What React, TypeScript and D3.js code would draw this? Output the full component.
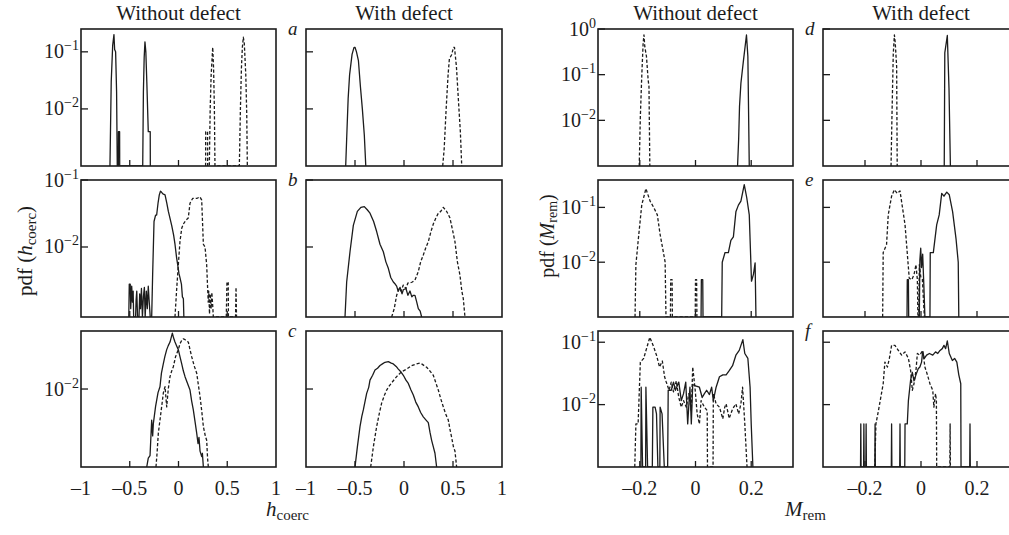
import React from 'react';
import * as d3 from 'd3';

type Pt = [number, number];

// ---- h_coerc panels (x: -1..1) ----
const aWithoutSolid: Pt[] = [
  [-0.703, 0], [-0.69, 0.03], [-0.675, 0.13], [-0.662, 0.2], [-0.655, 0.11], [-0.645, 0.1], [-0.635, 0.02], [-0.628, 0],
  [-0.617, 0], [-0.616, 0.004], [-0.604, 0.004], [-0.603, 0],
  [-0.367, 0], [-0.36, 0.02], [-0.352, 0.08], [-0.344, 0.15], [-0.335, 0.1], [-0.325, 0.03], [-0.31, 0.004],
  [-0.29, 0.004], [-0.289, 0],
];
const aWithoutDashed: Pt[] = [
  [0.278, 0], [0.279, 0.004], [0.298, 0.004], [0.299, 0], [0.316, 0], [0.325, 0.01], [0.335, 0.04], [0.351, 0.12],
  [0.36, 0.05], [0.368, 0.01], [0.374, 0],
  [0.624, 0], [0.635, 0.01], [0.645, 0.05], [0.655, 0.12], [0.665, 0.18], [0.675, 0.14], [0.69, 0.04], [0.7, 0.008], [0.706, 0],
];
const aWithSolid: Pt[] = [
  [-0.595, 0], [-0.585, 0.003], [-0.57, 0.015], [-0.555, 0.04], [-0.53, 0.09], [-0.51, 0.12], [-0.5, 0.12],
  [-0.485, 0.1], [-0.465, 0.07], [-0.445, 0.025], [-0.425, 0.01], [-0.405, 0.0035], [-0.39, 0],
];
const aWithDashed: Pt[] = [
  [0.395, 0], [0.41, 0.002], [0.43, 0.01], [0.45, 0.04], [0.463, 0.075], [0.487, 0.09], [0.505, 0.12], [0.515, 0.12],
  [0.535, 0.055], [0.555, 0.0145], [0.575, 0.004], [0.589, 0],
];

const bWithoutSolid: Pt[] = [
  [-0.51, 0], [-0.505, 0.0028], [-0.495, 0.0028], [-0.49, 0.0012], [-0.48, 0.0026], [-0.472, 0.0015], [-0.465, 0.0022],
  [-0.46, 0], [-0.44, 0], [-0.435, 0.0016], [-0.428, 0.0022], [-0.42, 0], [-0.405, 0], [-0.398, 0.002], [-0.39, 0.0012],
  [-0.38, 0.0024], [-0.37, 0], [-0.36, 0.0018], [-0.35, 0.0025], [-0.342, 0], [-0.33, 0.0022], [-0.32, 0.0012],
  [-0.31, 0.0026], [-0.3, 0.0015], [-0.29, 0],
  [-0.275, 0], [-0.265, 0.004], [-0.251, 0.024], [-0.235, 0.03], [-0.224, 0.03], [-0.21, 0.045], [-0.197, 0.06],
  [-0.185, 0.068], [-0.175, 0.066], [-0.16, 0.062], [-0.138, 0.06], [-0.12, 0.045], [-0.104, 0.034], [-0.09, 0.028],
  [-0.07, 0.021], [-0.05, 0.015], [-0.036, 0.011], [-0.02, 0.007], [-0.008, 0.0054], [0.005, 0.004], [0.015, 0.0035],
  [0.03, 0.0028], [0.04, 0.0018], [0.05, 0.0017], [0.055, 0],
];
const bWithoutDashed: Pt[] = [
  [-0.036, 0], [-0.02, 0.0022], [-0.002, 0.0054], [0.015, 0.012], [0.033, 0.019], [0.05, 0.022], [0.075, 0.025],
  [0.1, 0.027], [0.118, 0.045], [0.145, 0.053], [0.187, 0.053], [0.22, 0.056], [0.238, 0.05], [0.255, 0.011],
  [0.272, 0.01], [0.289, 0.0054], [0.3, 0.0022], [0.305, 0.0015], [0.31, 0.0022], [0.318, 0.001], [0.325, 0.002],
  [0.335, 0.0012], [0.342, 0.0021], [0.35, 0.0014], [0.357, 0],
  [0.49, 0], [0.497, 0.003], [0.51, 0.003], [0.512, 0], [0.585, 0], [0.59, 0.0025], [0.595, 0],
];
const bWithSolid: Pt[] = [
  [-0.602, 0], [-0.585, 0.003], [-0.551, 0.0085], [-0.517, 0.021], [-0.476, 0.034], [-0.44, 0.039], [-0.405, 0.04],
  [-0.375, 0.036], [-0.347, 0.032], [-0.31, 0.024], [-0.279, 0.017], [-0.245, 0.011], [-0.211, 0.0085], [-0.185, 0.006],
  [-0.16, 0.0048], [-0.135, 0.0035], [-0.109, 0.003], [-0.09, 0.0028], [-0.075, 0.0026], [-0.06, 0.0022],
  [-0.04, 0.0025], [-0.02, 0.002], [-0.007, 0.0023], [0.02, 0.0024], [0.04, 0.0019], [0.061, 0.0022], [0.08, 0.0018],
  [0.095, 0.0019], [0.112, 0.0019], [0.13, 0.0015], [0.146, 0.0012], [0.165, 0.0011], [0.18, 0],
];
const bWithDashed: Pt[] = [
  [-0.126, 0], [-0.1, 0.0012], [-0.075, 0.0019], [-0.05, 0.0024], [-0.03, 0.0022], [-0.007, 0.0027], [0.02, 0.0024],
  [0.04, 0.0029], [0.061, 0.0029], [0.085, 0.003], [0.112, 0.0032], [0.146, 0.0043], [0.17, 0.006], [0.197, 0.0076],
  [0.225, 0.01], [0.248, 0.012], [0.275, 0.017], [0.299, 0.022], [0.325, 0.027], [0.35, 0.032], [0.375, 0.034],
  [0.401, 0.039], [0.43, 0.035], [0.45, 0.031], [0.469, 0.027], [0.495, 0.018], [0.52, 0.012], [0.545, 0.006],
  [0.571, 0.0038], [0.59, 0.0022], [0.605, 0.0017], [0.622, 0],
];

const cWithoutSolid: Pt[] = [
  [-0.326, 0], [-0.31, 0.0013], [-0.292, 0.0014], [-0.275, 0.004], [-0.265, 0.0025], [-0.258, 0.0036], [-0.235, 0.006],
  [-0.21, 0.009], [-0.19, 0.0107], [-0.175, 0.016], [-0.156, 0.021], [-0.14, 0.026], [-0.121, 0.032], [-0.105, 0.036],
  [-0.087, 0.04], [-0.063, 0.052], [-0.05, 0.045], [-0.036, 0.04], [-0.02, 0.036], [-0.002, 0.032], [0.015, 0.026],
  [0.033, 0.021], [0.05, 0.017], [0.067, 0.0144], [0.09, 0.012], [0.118, 0.0097], [0.135, 0.007], [0.152, 0.0054],
  [0.17, 0.0038], [0.187, 0.0027], [0.2, 0.002], [0.21, 0.0024], [0.221, 0.0016], [0.238, 0.00136], [0.245, 0.0015],
  [0.255, 0],
];
const cWithoutDashed: Pt[] = [
  [-0.231, 0], [-0.22, 0.0015], [-0.207, 0.0027], [-0.19, 0.004], [-0.173, 0.0059], [-0.155, 0.009], [-0.138, 0.0107],
  [-0.121, 0.0059], [-0.105, 0.01], [-0.087, 0.0144], [-0.07, 0.017], [-0.053, 0.0193], [-0.03, 0.026], [-0.002, 0.032],
  [0.015, 0.038], [0.033, 0.042], [0.05, 0.044], [0.067, 0.043], [0.085, 0.041], [0.101, 0.04], [0.118, 0.032],
  [0.135, 0.026], [0.16, 0.02], [0.187, 0.0159], [0.205, 0.011], [0.221, 0.008], [0.24, 0.005], [0.255, 0.0033],
  [0.275, 0.0025], [0.289, 0.0022], [0.298, 0.0013], [0.306, 0],
];
const cWithSolid: Pt[] = [
  [-0.5, 0], [-0.476, 0.0018], [-0.449, 0.0033], [-0.43, 0.0045], [-0.415, 0.0054], [-0.381, 0.0088], [-0.36, 0.0105],
  [-0.347, 0.013], [-0.32, 0.015], [-0.296, 0.0175], [-0.27, 0.0185], [-0.245, 0.02], [-0.22, 0.021], [-0.194, 0.022],
  [-0.16, 0.0224], [-0.13, 0.0215], [-0.109, 0.021], [-0.08, 0.0195], [-0.058, 0.018], [-0.03, 0.0165], [-0.007, 0.015],
  [0.02, 0.013], [0.044, 0.0118], [0.07, 0.0098], [0.095, 0.0084], [0.12, 0.0068], [0.146, 0.0059], [0.17, 0.005],
  [0.197, 0.0044], [0.225, 0.004], [0.248, 0.0037], [0.265, 0.0028], [0.282, 0.0022], [0.3, 0.0018], [0.316, 0.0015],
  [0.333, 0],
];
const cWithDashed: Pt[] = [
  [-0.34, 0], [-0.313, 0.0018], [-0.279, 0.0033], [-0.25, 0.005], [-0.228, 0.0066], [-0.2, 0.0083], [-0.177, 0.0097],
  [-0.15, 0.011], [-0.126, 0.012], [-0.1, 0.0132], [-0.075, 0.0144], [-0.05, 0.0155], [-0.024, 0.0167], [0.027, 0.018],
  [0.078, 0.02], [0.129, 0.021], [0.163, 0.0215], [0.18, 0.021], [0.231, 0.019], [0.265, 0.017], [0.299, 0.015],
  [0.325, 0.012], [0.35, 0.0097], [0.375, 0.0075], [0.401, 0.0059], [0.425, 0.0048], [0.452, 0.004], [0.47, 0.003],
  [0.486, 0.0024], [0.505, 0.0018], [0.52, 0.0016], [0.537, 0],
];

// ---- M_rem panels (x: -0.35..0.35) ----
const dWithoutSolid: Pt[] = [
  [0.151, 0], [0.155, 0.004], [0.158, 0.02], [0.163, 0.065], [0.172, 0.2], [0.183, 0.74], [0.188, 0.25], [0.193, 0],
];
const dWithoutDashed: Pt[] = [
  [-0.202, 0], [-0.198, 0.012], [-0.193, 0.09], [-0.188, 0.49], [-0.185, 0.74], [-0.182, 0.41], [-0.176, 0.25],
  [-0.17, 0.077], [-0.167, 0.055], [-0.164, 0],
];
const dWithSolid: Pt[] = [[0.083, 0], [0.085, 0.3], [0.094, 0.72], [0.1, 0.05], [0.105, 0]];
const dWithDashed: Pt[] = [
  [-0.107, 0], [-0.104, 0.01], [-0.099, 0.29], [-0.095, 0.74], [-0.092, 0.5], [-0.087, 0.15], [-0.085, 0],
];

const eWithoutSolid: Pt[] = [
  [0.02, 0], [0.021, 0.0048], [0.026, 0.0048], [0.027, 0],
  [0.094, 0], [0.096, 0.01], [0.106, 0.015], [0.118, 0.015], [0.127, 0.025], [0.136, 0.029], [0.145, 0.083],
  [0.154, 0.11], [0.163, 0.13], [0.175, 0.26], [0.184, 0.15], [0.193, 0.073], [0.201, 0.0045], [0.208, 0.006],
  [0.214, 0.0097], [0.217, 0],
];
const eWithoutDashed: Pt[] = [
  [-0.217, 0], [-0.214, 0.009], [-0.205, 0.027], [-0.193, 0.11], [-0.178, 0.22], [-0.163, 0.13], [-0.15, 0.1],
  [-0.137, 0.073], [-0.127, 0.032], [-0.118, 0.018], [-0.109, 0.01], [-0.106, 0],
  [-0.09, 0], [-0.089, 0.0048], [-0.084, 0.0048], [-0.083, 0], [-0.001, 0], [0, 0.0048], [0.004, 0.0048], [0.005, 0],
];
const eWithSolid: Pt[] = [
  [-0.05, 0], [-0.049, 0.0048], [-0.045, 0.0048], [-0.044, 0],
  [-0.006, 0], [-0.004, 0.011], [-0.001, 0.018], [0.002, 0.008], [0.006, 0.014], [0.01, 0.004], [0.014, 0],
  [0.032, 0], [0.033, 0.015], [0.044, 0.015], [0.056, 0.048], [0.065, 0.073], [0.074, 0.18], [0.082, 0.16],
  [0.092, 0.19], [0.101, 0.17], [0.113, 0.083], [0.125, 0.027], [0.133, 0.01], [0.135, 0],
];
const eWithDashed: Pt[] = [
  [-0.137, 0], [-0.135, 0.015], [-0.123, 0.021], [-0.117, 0.073], [-0.105, 0.16], [-0.095, 0.21], [-0.085, 0.18],
  [-0.075, 0.2], [-0.057, 0.048], [-0.042, 0.0051], [-0.033, 0.0048], [-0.025, 0.0059], [-0.018, 0.009],
  [-0.013, 0.0048], [-0.011, 0], [-0.008, 0], [-0.006, 0.009], [-0.001, 0.0055], [0.005, 0.0048], [0.012, 0],
];

const fWithoutSolid: Pt[] = [
  [-0.205, 0], [-0.196, 0], [-0.195, 0.019], [-0.19, 0], [-0.179, 0], [-0.178, 0.019], [-0.172, 0], [-0.155, 0],
  [-0.153, 0.0091], [-0.145, 0.0091], [-0.14, 0.0071], [-0.135, 0], [-0.128, 0], [-0.127, 0.0091], [-0.12, 0.0071],
  [-0.112, 0], [-0.1, 0], [-0.098, 0.017], [-0.087, 0.017], [-0.079, 0.023], [-0.072, 0.017], [-0.06, 0.023],
  [-0.051, 0.0116], [-0.043, 0.015], [-0.035, 0.023], [-0.028, 0.0049], [-0.02, 0.019], [-0.015, 0.0049],
  [-0.01, 0.021], [0, 0.02], [0.014, 0.019], [0.024, 0.013], [0.032, 0.015], [0.04, 0.017], [0.05, 0.0145],
  [0.058, 0.019], [0.064, 0.0116], [0.074, 0.019], [0.086, 0.028], [0.098, 0.03], [0.11, 0.03], [0.121, 0.035],
  [0.133, 0.042], [0.145, 0.062], [0.157, 0.074], [0.17, 0.11], [0.177, 0.066], [0.188, 0.055], [0.196, 0.019],
  [0.2, 0.0049], [0.206, 0],
];
const fWithoutDashed: Pt[] = [
  [-0.218, 0], [-0.214, 0.0049], [-0.206, 0.0049], [-0.198, 0.048], [-0.186, 0.055], [-0.164, 0.12], [-0.15, 0.084],
  [-0.14, 0.062], [-0.129, 0.04], [-0.119, 0.05], [-0.111, 0.028], [-0.105, 0.023], [-0.095, 0.017], [-0.087, 0.023],
  [-0.079, 0.016], [-0.069, 0.024], [-0.06, 0.013], [-0.051, 0.0091], [-0.043, 0.0116], [-0.033, 0.0091],
  [-0.024, 0.015], [-0.015, 0.008], [-0.01, 0.04], [-0.001, 0.017], [0.006, 0.0071], [0.014, 0.0049], [0.02, 0.0116],
  [0.032, 0.0091], [0.042, 0.008], [0.043, 0], [0.063, 0], [0.064, 0.015], [0.074, 0.0103], [0.086, 0.0091],
  [0.098, 0.0059], [0.105, 0.0091], [0.11, 0.0103], [0.121, 0.006], [0.133, 0.0085], [0.145, 0.0103], [0.155, 0.0071],
  [0.163, 0.0103], [0.169, 0.019], [0.177, 0.0049], [0.185, 0],
];
const fWithSolid: Pt[] = [
  [-0.216, 0], [-0.215, 0.0049], [-0.214, 0], [-0.205, 0], [-0.204, 0.0049], [-0.203, 0], [-0.197, 0],
  [-0.196, 0.0049], [-0.195, 0], [-0.165, 0], [-0.164, 0.0049], [-0.163, 0], [-0.106, 0], [-0.105, 0.0049],
  [-0.104, 0], [-0.076, 0], [-0.075, 0.0049], [-0.074, 0], [-0.058, 0], [-0.057, 0.0049], [-0.049, 0.0049],
  [-0.045, 0.0116], [-0.037, 0.025], [-0.031, 0.033], [-0.025, 0.024], [-0.018, 0.03], [-0.01, 0.0376],
  [-0.004, 0.04], [0.002, 0.048], [0.006, 0.07], [0.012, 0.055], [0.02, 0.062], [0.03, 0.066], [0.042, 0.062],
  [0.052, 0.07], [0.06, 0.066], [0.068, 0.074], [0.076, 0.079], [0.082, 0.089], [0.088, 0.079], [0.094, 0.105],
  [0.101, 0.066], [0.112, 0.051], [0.12, 0.055], [0.128, 0.048], [0.135, 0.03], [0.142, 0.0216], [0.143, 0],
  [0.174, 0], [0.175, 0.0049], [0.176, 0],
];
const fWithDashed: Pt[] = [
  [-0.165, 0], [-0.161, 0.0049], [-0.152, 0.008], [-0.135, 0.0216], [-0.129, 0.048], [-0.12, 0.04], [-0.113, 0.055],
  [-0.105, 0.089], [-0.093, 0.089], [-0.081, 0.074], [-0.069, 0.062], [-0.057, 0.07], [-0.045, 0.055],
  [-0.037, 0.035], [-0.031, 0.017], [-0.025, 0.0216], [-0.018, 0.035], [-0.013, 0.066], [-0.004, 0.062],
  [0.006, 0.074], [0.014, 0.04], [0.023, 0.03], [0.032, 0.0216], [0.042, 0.017], [0.046, 0.0091], [0.052, 0.015],
  [0.055, 0.0116], [0.056, 0], [0.103, 0], [0.104, 0.0049], [0.105, 0],
];

// axes
const hTicks = [-1, -0.5, 0, 0.5, 1];
const hTickLabels = ['–1', '–0.5', '0', '0.5', '1'];
const mTicks = [-0.2, 0, 0.2];
const mTickLabels = ['–0.2', '0', '0.2'];
const hYDomains: [number, number][] = [[1e-3, 10 ** -0.6], [10 ** -3.045, 1e-1], [1e-3, 10 ** -1.256]];
const hYExp = [[-1, -2], [-1, -2], [-2]];
const mYDomains: [number, number][] = [[1e-3, 1], [1e-3, 10 ** -0.5], [1e-3, 10 ** -0.82]];
const mYExp = [[0, -1, -2], [-1, -2], [-1, -2]];
const colTitles = ['Without defect', 'With defect'];
const letters = [['a', 'b', 'c'], ['d', 'e', 'f']];

const hData = [
  [[aWithoutSolid, aWithoutDashed], [aWithSolid, aWithDashed]],
  [[bWithoutSolid, bWithoutDashed], [bWithSolid, bWithDashed]],
  [[cWithoutSolid, cWithoutDashed], [cWithSolid, cWithDashed]],
];
const mData = [
  [[dWithoutSolid, dWithoutDashed], [dWithSolid, dWithDashed]],
  [[eWithoutSolid, eWithoutDashed], [eWithSolid, eWithDashed]],
  [[fWithoutSolid, fWithoutDashed], [fWithSolid, fWithDashed]],
];

const INK = '#1c1c1c';
const FONT = '"Liberation Serif", "DejaVu Serif", serif';

const groups = [
  { cols: [[81, 276], [306, 502]], xDomain: [-1, 1], ticks: hTicks, tickLabels: hTickLabels, yDomains: hYDomains, yExp: hYExp, data: hData, letters: letters[0], minor: [-0.5, 0, 0.5] },
  { cols: [[598, 793], [823, 1019]], xDomain: [-0.35, 0.35], ticks: mTicks, tickLabels: mTickLabels, yDomains: mYDomains, yExp: mYExp, data: mData, letters: letters[1], minor: [-0.2, 0, 0.2] },
];
const rows = [[29, 166], [180, 317], [331, 467]];

const expLabel = (e: number) => (e === 0 ? '0' : `−${-e}`);

export default function App() {
  const panels: React.ReactNode[] = [];
  groups.forEach((g, gi) => {
    g.cols.forEach(([x0, x1], ci) => {
      rows.forEach(([y0, y1], ri) => {
        const x = d3.scaleLinear().domain(g.xDomain).range([x0, x1]);
        const dom = g.yDomains[ri];
        const y = d3.scaleLog().domain(dom).range([y1, y0]);
        const line = d3.line<Pt>().x(d => x(d[0])).y(d => y(Math.max(d[1], dom[0])));
        const [solid, dashed] = g.data[ri][ci];
        const id = `clip-${gi}-${ci}-${ri}`;
        panels.push(
          <g key={id}>
            <clipPath id={id}><rect x={x0} y={y0} width={x1 - x0} height={y1 - y0} /></clipPath>
            <g clipPath={`url(#${id})`} fill="none" stroke={INK} strokeWidth={1.3} strokeLinejoin="round">
              <path d={line(dashed) || ''} strokeDasharray="3.2,2" />
              <path d={line(solid) || ''} />
            </g>
            {g.minor.map(t => (
              <line key={`xt${t}`} x1={x(t)} x2={x(t)} y1={y1} y2={y1 - 6} stroke={INK} strokeWidth={1.3} />
            ))}
            {g.yExp[ri].map(e => (
              <line key={`yt${e}`} x1={x0} x2={x0 + 7} y1={y(10 ** e)} y2={y(10 ** e)} stroke={INK} strokeWidth={1.3} />
            ))}
            <rect x={x0} y={y0} width={x1 - x0} height={y1 - y0} fill="none" stroke={INK} strokeWidth={1.6} />
            {ci === 0 && g.yExp[ri].map(e => (
              <text key={`yl${e}`} x={x0 - 2} y={y(10 ** e) + 6.5} textAnchor="end" fontSize={20}>
                10<tspan fontSize={14} dy={-8}>{expLabel(e)}</tspan>
              </text>
            ))}
            {ri === 2 && g.ticks.map((t, ti) => (
              <text key={`xl${t}`} x={x(t)} y={495} textAnchor="middle" fontSize={20}>{g.tickLabels[ti]}</text>
            ))}
            {ci === 1 && (
              <text x={x0 - 18} y={y0 + 6} fontSize={19} fontStyle="italic">{g.letters[ri]}</text>
            )}
            {ri === 0 && (
              <text x={(x0 + x1) / 2} y={20} textAnchor="middle" fontSize={21}>{colTitles[ci]}</text>
            )}
          </g>
        );
      });
    });
  });

  return (
    <svg width={1009} height={535} style={{ position: 'absolute', left: 0, top: 0, background: '#fff' }}
      fontFamily={FONT} fill={INK}>
      {panels}
      <text transform="translate(32,251) rotate(-90)" textAnchor="middle" fontSize={21}>
        pdf (<tspan fontStyle="italic">h</tspan><tspan fontSize={15} dy={4}>coerc</tspan><tspan dy={-4}>)</tspan>
      </text>
      <text transform="translate(554,236) rotate(-90)" textAnchor="middle" fontSize={20}>
        pdf (<tspan fontStyle="italic">M</tspan><tspan fontSize={14} dy={3}>rem</tspan><tspan dy={-3}>)</tspan>
      </text>
      <text x={266} y={516} fontSize={21}>
        <tspan fontStyle="italic">h</tspan><tspan fontSize={15} dy={4}>coerc</tspan>
      </text>
      <text x={785} y={516} fontSize={21}>
        <tspan fontStyle="italic">M</tspan><tspan fontSize={15} dy={4}>rem</tspan>
      </text>
    </svg>
  );
}
